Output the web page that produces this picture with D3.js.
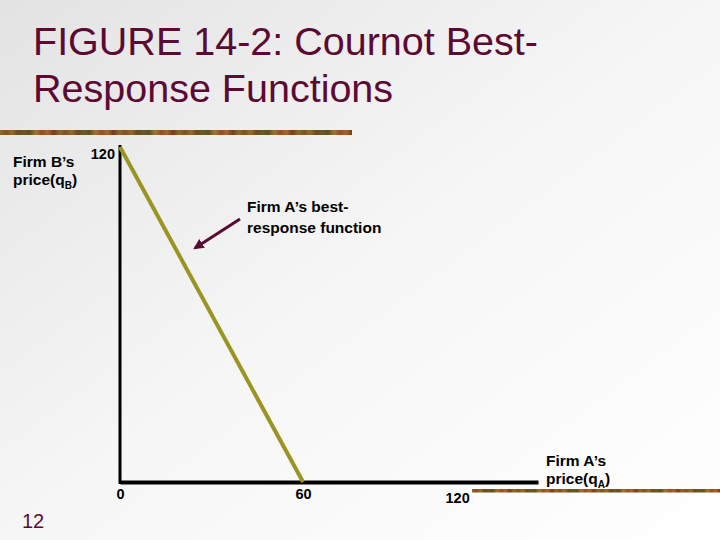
<!DOCTYPE html>
<html>
<head>
<meta charset="utf-8">
<script src="https://cdn.jsdelivr.net/npm/d3@7"></script>
<style>
  html, body { margin: 0; padding: 0; }
  body { width: 720px; height: 540px; overflow: hidden; }
  text { font-family: "Liberation Sans", Arial, sans-serif; }
</style>
</head>
<body>
<svg id="chart"></svg>
<script>
// chart data
const titleLines = ['FIGURE 14-2: Cournot Best-', 'Response Functions'];
const bestResponseA = [
    {qA: 0, qB: 120},
    {qA: 60, qB: 0},
];
const xTicks = [0, 60, 120];
const yTicks = [120];
const xAxisMax = 137;
const yAxisMax = 120;
const yLabel = ['Firm B\u2019s', 'price(q', 'B', ')'];
const xLabel = ['Firm A\u2019s', 'price(q', 'A', ')'];
const noteLines = ['Firm A\u2019s best-', 'response function'];
const pageNumber = '12';

const w = 720;
const h = 540;
const maroon = '#5c0a33';
const olive = '#9b9422';

const svg = d3.select('#chart')
    .attr('width', w)
    .attr('height', h);

const defs = svg.append('defs');

// slide background
const bg = defs.append('linearGradient')
    .attr('id', 'bg')
    .attr('x1', 0).attr('y1', 0)
    .attr('x2', 1).attr('y2', 1);
bg.append('stop').attr('offset', 0).attr('stop-color', '#e3e3e3');
bg.append('stop').attr('offset', 0.5).attr('stop-color', '#f6f6f6');
bg.append('stop').attr('offset', 1).attr('stop-color', '#ffffff');

svg.append('rect')
    .attr('width', w)
    .attr('height', h)
    .attr('fill', 'url(#bg)');

// textured rule bars (decoration)
const barColors = ['#8c6a2a', '#6e4a1e', '#a0762e', '#7a3a1c', '#946c28',
                   '#5e5020', '#a4682a', '#83501f', '#6b5a26', '#9a4a22'];
const tex = defs.append('linearGradient').attr('id', 'tex');
d3.range(60).forEach(i => {
    tex.append('stop')
        .attr('offset', i / 59)
        .attr('stop-color', barColors[(i * 7) % barColors.length]);
});

svg.append('rect')
    .attr('x', 0).attr('y', 130)
    .attr('width', 352).attr('height', 5)
    .attr('fill', 'url(#tex)');

svg.append('rect')
    .attr('x', 472).attr('y', 489)
    .attr('width', 248).attr('height', 3.5)
    .attr('fill', 'url(#tex)');

// title
svg.append('g')
    .selectAll('text')
    .data(titleLines)
    .join('text')
        .attr('x', 33)
        .attr('y', (d, i) => 55 + i * 47)
        .attr('fill', maroon)
        .style('font-size', '39.5px')
        .text(d => d);

// scales
const x = d3.scaleLinear().domain([0, xAxisMax]).range([120, 538]);
const y = d3.scaleLinear().domain([0, yAxisMax]).range([482, 147]);

// x axis
const xAxis = svg.append('g')
    .attr('transform', `translate(0,${y(0)})`)
    .call(d3.axisBottom(x).tickValues(xTicks).tickSize(0).tickPadding(6).tickFormat(d3.format('d')));
xAxis.select('.domain')
    .attr('stroke', '#000')
    .attr('stroke-width', 4);
xAxis.selectAll('.tick text')
    .attr('fill', '#000')
    .style('font-family', '"Liberation Sans", Arial, sans-serif')
    .style('font-size', '14.5px')
    .style('font-weight', 'bold')
    .attr('dx', d => d === 120 ? -29 : 0)
    .attr('dy', d => d === 120 ? '1.05em' : '0.78em');

// y axis
const yAxis = svg.append('g')
    .attr('transform', `translate(${x(0)},0)`)
    .call(d3.axisLeft(y).tickValues(yTicks).tickSize(0).tickPadding(5).tickFormat(d3.format('d')));
yAxis.select('.domain')
    .attr('stroke', '#000')
    .attr('stroke-width', 3)
    .attr('d', `M0,${y(0) + 2}V${y(yAxisMax) - 2}`);
yAxis.selectAll('.tick text')
    .attr('fill', '#000')
    .style('font-family', '"Liberation Sans", Arial, sans-serif')
    .style('font-size', '14.5px')
    .style('font-weight', 'bold')
    .attr('dy', '0.8em');

// best-response line
const line = d3.line()
    .x(d => x(d.qA))
    .y(d => y(d.qB));

svg.append('path')
    .datum(bestResponseA)
    .attr('d', line)
    .attr('fill', 'none')
    .attr('stroke', olive)
    .attr('stroke-width', 4);

// axis titles
function axisTitle(parts, tx, ty) {
    const g = svg.append('g')
        .style('font-size', '15.5px')
        .style('font-weight', 'bold')
        .attr('fill', '#000');
    g.append('text').attr('x', tx).attr('y', ty).text(parts[0]);
    const t = g.append('text').attr('x', tx).attr('y', ty + 18);
    t.append('tspan').text(parts[1]);
    t.append('tspan').attr('dy', 4).style('font-size', '10px').text(parts[2]);
    t.append('tspan').attr('dy', -4).text(parts[3]);
}
axisTitle(yLabel, 13, 167);
axisTitle(xLabel, 546, 466);

// annotation
svg.append('g')
    .selectAll('text')
    .data(noteLines)
    .join('text')
        .attr('x', 247)
        .attr('y', (d, i) => 212 + i * 21)
        .style('font-size', '15.5px')
        .style('font-weight', 'bold')
        .attr('fill', '#000')
        .text(d => d);

defs.append('marker')
    .attr('id', 'head')
    .attr('viewBox', '0 0 10 10')
    .attr('refX', 8).attr('refY', 5)
    .attr('markerWidth', 3.5).attr('markerHeight', 3.5)
    .attr('orient', 'auto')
  .append('path')
    .attr('d', 'M0,0L10,5L0,10z')
    .attr('fill', maroon);

svg.append('line')
    .attr('x1', 240).attr('y1', 219)
    .attr('x2', 195).attr('y2', 248)
    .attr('stroke', maroon)
    .attr('stroke-width', 3)
    .attr('marker-end', 'url(#head)');

// slide number
svg.append('text')
    .attr('x', 22)
    .attr('y', 528)
    .attr('fill', maroon)
    .style('font-size', '20px')
    .text(pageNumber);
</script>
</body>
</html>
